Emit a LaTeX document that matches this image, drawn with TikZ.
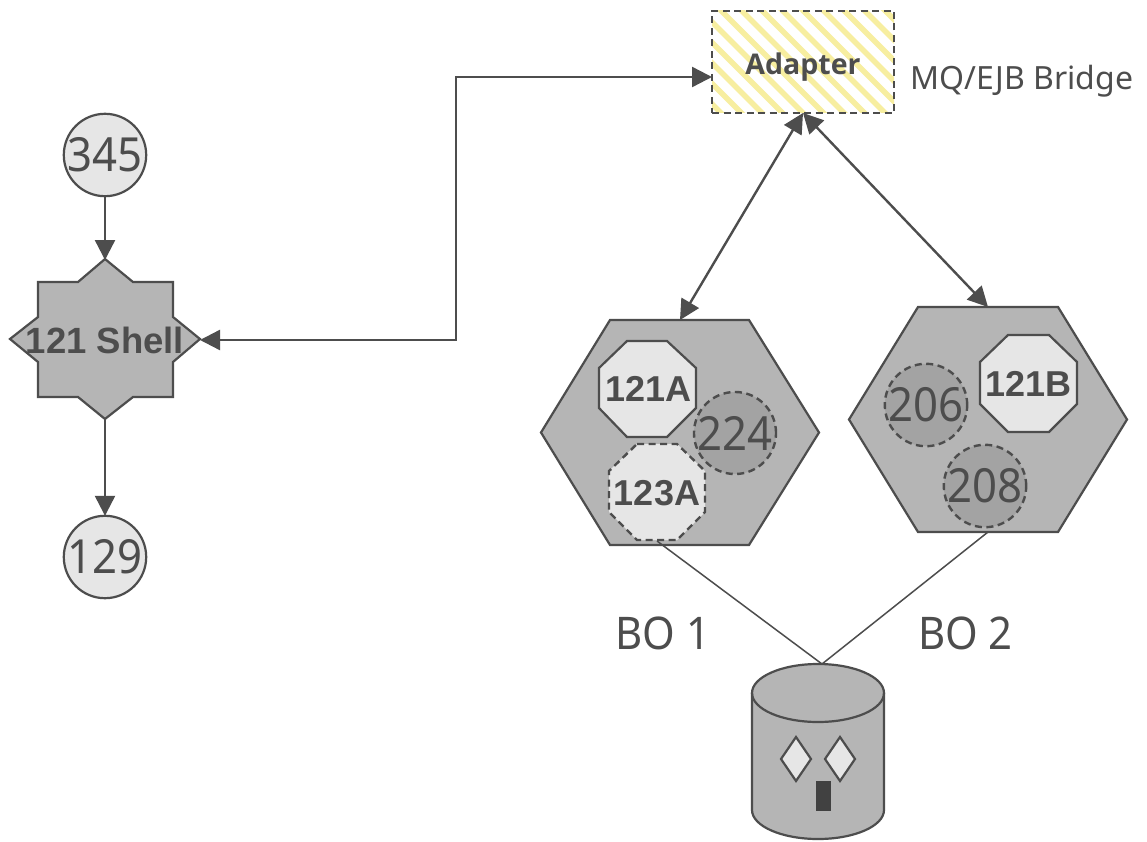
\documentclass[tikz,border=0pt]{standalone}
\usepackage{fontspec}
\setmainfont{Noto Sans}
\newfontfamily\arialfont{Liberation Sans}
\newfontfamily\numfont[FakeStretch=0.93]{Noto Sans}
\newfontfamily\adapterfont{Open Sans}
\usetikzlibrary{arrows.meta}
\definecolor{ink}{HTML}{4D4D4D}
\definecolor{midgray}{HTML}{B5B5B5}
\definecolor{lightgray}{HTML}{E6E6E6}
\definecolor{darkgray}{HTML}{A3A3A3}
\definecolor{stripe}{HTML}{F7EEA0}
\tikzset{
  shapeline/.style={draw=ink,line width=2.2pt,line join=miter},
  dashline/.style={draw=ink,line width=2.4pt,dash pattern=on 7pt off 4.5pt},
  anchorbox/.style={inner sep=0pt,outer sep=0pt,text=ink,align=center},
  numtext/.style={font=\numfont\fontsize{47}{47}\selectfont},
  boldtext/.style={font=\arialfont\bfseries\fontsize{#1}{#1}\selectfont},
  lighttext/.style={text=ink,inner sep=0pt,font=\numfont\fontsize{#1}{#1}\selectfont},
  conn/.style={draw=ink,line width=2.4pt,{Triangle[length=20pt,width=20pt]}-{Triangle[length=20pt,width=20pt]}},
  connone/.style={draw=ink,line width=2.4pt,-{Triangle[length=20pt,width=20pt]}},
  thinconn/.style={draw=ink,line width=1.5pt},
  lightcircle/.style={circle,shapeline,fill=lightgray,minimum size=80pt,anchorbox,numtext},
  darkcircle/.style={circle,dashline,fill=darkgray,minimum size=80pt,anchorbox,numtext},
}
\begin{document}
\begin{tikzpicture}[x=1pt,y=-1pt]
\useasboundingbox (0,0) rectangle (1147,842);
\fill[white] (0,0) rectangle (1147,842);
% adapter
\begin{scope}
\clip (712,11) rectangle (894,113);
\foreach \k in {-6,...,15}{
  \draw[stripe,line width=5.5pt] ({690+\k*20.5},0) -- ({830+\k*20.5},140);
}
\end{scope}
\node[rectangle,dashline,minimum width=182pt,minimum height=102pt,anchorbox] (adapter) at (803,62) {};
\node[text=ink,inner sep=0pt,font=\adapterfont\bfseries\fontsize{28.5}{28.5}\selectfont] (adaptertext) at (803,67) {Adapter};
\node[text=ink,inner sep=0pt,font=\fontsize{32}{32}\selectfont,anchor=west] (bridge) at (910,81) {MQ/EJB Bridge};
\coordinate (adapterin) at (712,77);
% shell
\path[shapeline,fill=midgray] (105,259) -- (78,282) -- (38,282)--(38,317)-- (10,339) -- (38,362) -- (38,397) -- (78,397) -- (105,419) -- (133,397) -- (173,397) -- (173,362) -- (200,339) -- (173,317) -- (173,282) -- (133,282) -- cycle;
\node[minimum width=190pt,minimum height=160pt,anchorbox,boldtext=36.5] (shell) at (105,340) {121 Shell};
% circles
\node[lightcircle] (n345) at (105,155) {345};
\node[lightcircle] (n129) at (105,557) {129};
% hexagons
\path[shapeline,fill=midgray] (541,432.5) -- (610,320) -- (749,320) -- (819,432.5) -- (749,545) -- (610,545) -- cycle;
\node[minimum width=278pt,minimum height=225pt,anchorbox] (hexa) at (680,432.5) {};
\path[shapeline,fill=midgray] (849,419.5) -- (918,307) -- (1058,307) -- (1127,419.5) -- (1058,532) -- (918,532) -- cycle;
\node[minimum width=278pt,minimum height=225pt,anchorbox] (hexb) at (988,419.5) {};
% octagons
\path[shapeline,fill=lightgray] (627,341) -- (667,341) -- (696,368) -- (696,408) -- (667,437) -- (627,437) -- (599,408) -- (599,368) -- cycle;
\node[minimum width=97pt,minimum height=96pt,anchorbox,boldtext=36] (a121) at (648.5,389) {121A};
\path[dashline,fill=lightgray] (637,444) -- (677,444) -- (705,471) -- (705,512) -- (677,540) -- (637,540) -- (609,512) -- (609,471) -- cycle;
\node[minimum width=96pt,minimum height=96pt,anchorbox,boldtext=36] (a123) at (657,493) {123A};
\path[shapeline,fill=lightgray] (1008,335) -- (1049,335) -- (1077,362) -- (1077,404) -- (1049,432) -- (1008,432) -- (980,404) -- (980,362) -- cycle;
\node[minimum width=97pt,minimum height=97pt,anchorbox,boldtext=36] (b121) at (1028.5,384) {121B};
\node[darkcircle] (n224) at (735,433) {224};
\node[darkcircle] (n206) at (926,405) {206};
\node[darkcircle] (n208) at (985,486) {208};
% labels
\node[lighttext=45] (bo1) at (663,633) {BO 1};
\node[lighttext=45] (bo2) at (965.5,633) {BO 2};
% cylinder
\path[shapeline,fill=midgray] (752,693) -- (752,810) arc[start angle=180,end angle=360,x radius=66,y radius=-29] -- (884,693) arc[start angle=0,end angle=180,x radius=66,y radius=-29] -- cycle;
\draw[shapeline] (752,693) arc[start angle=180,end angle=360,x radius=66,y radius=-29];
\node[minimum width=132pt,minimum height=175pt,anchorbox] (db) at (818,751.5) {};
\coordinate (dbtop) at (822,664);
\path[shapeline,fill=lightgray] (796,737) -- (811,759) -- (796,781) -- (781,759) -- cycle;
\path[shapeline,fill=lightgray] (840,737) -- (855,759) -- (840,781) -- (825,759) -- cycle;
\fill[fill=ink!85!black] (816,781) rectangle (831,811);
% connectors
\draw[connone] (n345) -- (shell.north);
\draw[connone] (shell.south) -- (n129);
\draw[conn] (shell.east) -- ++(256,0) |- (adapterin);
\draw[conn] (adapter.south) -- (hexa.north);
\draw[conn] (adapter.south) -- (hexb.north);
\draw[thinconn] (a123.south) -- (dbtop);
\draw[thinconn] (hexb.south) -- (dbtop);
\end{tikzpicture}
\end{document}
